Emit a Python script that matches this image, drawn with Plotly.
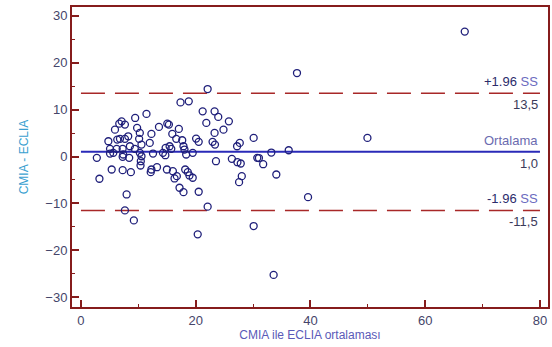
import plotly.graph_objects as go

# Bland-Altman data: mean of CMIA and ECLIA (x) vs difference CMIA - ECLIA (y)
mean_vals = [17.35, 18.79, 21.21, 23.29, 23.93, 25.78, 11.42, 9.45, 7.09, 6.68,
             7.66, 5.93, 9.79, 13.6, 15.05, 15.33, 17.06, 21.85, 24.84, 23.29,
             12.28, 10.26, 8.24, 7.66, 6.33, 6.8, 4.78, 15.92, 16.61, 17.65,
             17.87, 20.07, 20.52, 22.94, 23.36, 27.68, 27.21, 30.1, 11.99, 10.14,
             10.55, 8.53, 7.27, 5.07, 6.23, 9.39, 14.76, 15.45, 14.29, 15.74,
             18.04, 19.48, 18.34, 12.56, 10.26, 10.55, 8.41, 7.37, 5.64, 5.07,
             2.77, 7.27, 14.71, 23.53, 26.3, 27.27, 27.85, 30.73, 10.43, 10.38,
             5.36, 7.27, 8.7, 12.28, 12.16, 13.25, 14.98, 16.02, 16.31, 16.71,
             18.17, 18.62, 18.91, 19.48, 3.22, 28.03, 27.56, 17.18, 17.87, 20.52,
             7.96, 7.66, 22.08, 9.22, 20.35, 30.1, 22.08, 33.18, 36.21, 31.02,
             31.76, 34.05, 39.58, 33.58, 37.65, 66.89, 49.93]
diff_vals = [11.55, 11.77, 9.64, 9.64, 8.45, 7.51, 9.09, 8.23, 7.51, 7.02,
             6.81, 5.74, 6.11, 6.32, 7.02, 6.81, 5.89, 7.17, 5.74, 5.04,
             4.83, 5.04, 4.32, 3.77, 3.62, 3.77, 3.26, 4.83, 3.77, 3.47,
             2.19, 3.83, 3.13, 3.13, 2.55, 2.91, 2.19, 3.98, 2.91, 3.77,
             2.55, 2.19, 1.64, 1.64, 1.64, 1.64, 1.85, 2.19, 0.79, 1.64,
             1.49, 0.79, 0.43, 0.64, 0.79, 0.06, -0.28, 0.43, 0.79, 0.64,
             -0.28, -0.06, 0.28, -1.0, -0.49, -1.21, -1.49, -0.28, -1.0, -1.91,
             -2.77, -2.91, -3.34, -2.77, -3.34, -2.28, -2.77, -3.13, -4.68, -4.19,
             -2.77, -3.34, -4.04, -4.53, -4.74, -4.19, -5.47, -6.66, -7.6, -7.51,
             -8.09, -11.49, -10.7, -13.62, -16.6, -14.83, 14.4, 0.85, 1.34, -0.32,
             -1.64, -3.83, -8.66, -25.26, 17.81, 26.66, 3.98]

mean_diff = 1.0
upper_loa = 13.5
lower_loa = -11.5
line_x = [0, 80]

x_ticks = [0, 20, 40, 60, 80]
y_ticks = [-30, -20, -10, 0, 10, 20, 30]

frame = "#861c1c"
red_dash = "#a82828"
navy = "#1f1f7a"

fig = go.Figure()

fig.add_trace(go.Scatter(x=line_x, y=[upper_loa, upper_loa], mode="lines",
                         line=dict(color=red_dash, width=1.6, dash="24px,10px"),
                         hoverinfo="skip"))
fig.add_trace(go.Scatter(x=line_x, y=[lower_loa, lower_loa], mode="lines",
                         line=dict(color=red_dash, width=1.6, dash="24px,10px"),
                         hoverinfo="skip"))
fig.add_trace(go.Scatter(x=line_x, y=[mean_diff, mean_diff], mode="lines",
                         line=dict(color="#2a2ab8", width=2), hoverinfo="skip"))

fig.add_trace(go.Scatter(x=mean_vals, y=diff_vals, mode="markers",
                         marker=dict(symbol="circle-open", size=7,
                                     color=navy, line=dict(color=navy, width=1.3))))

lab_font = dict(family="Liberation Sans, Arial, sans-serif", size=13)
num_color = "#3a3a5a"


def fmt(v):
    return f"{v:.1f}".replace(".", ",")


anns = [
    (upper_loa, "<span style='color:#2b2b6b'>+1.96</span> <span style='color:#6b6bc0'>SS</span>", "bottom"),
    (upper_loa, f"<span style='color:{num_color}'>{fmt(upper_loa)}</span>", "top"),
    (mean_diff, "<span style='color:#6b6bb0'>Ortalama</span>", "bottom"),
    (mean_diff, f"<span style='color:{num_color}'>{fmt(mean_diff)}</span>", "top"),
    (lower_loa, "<span style='color:#2b2b6b'>-1.96</span> <span style='color:#6b6bc0'>SS</span>", "bottom"),
    (lower_loa, f"<span style='color:{num_color}'>{fmt(lower_loa)}</span>", "top"),
]
for yv, txt, anchor in anns:
    fig.add_annotation(x=80, y=yv, xref="x", yref="y", text=txt, showarrow=False,
                       xanchor="right", yanchor=anchor,
                       yshift=2 if anchor == "bottom" else -2, font=lab_font)

fig.update_layout(
    width=552, height=347,
    margin=dict(l=72, r=2, t=7, b=40),
    paper_bgcolor="white", plot_bgcolor="white",
    showlegend=False,
    font=dict(family="Liberation Sans, Arial, sans-serif"),
)
fig.update_xaxes(
    range=[-1.56, 81.4], tickvals=x_ticks, ticks="inside", ticklen=7, tickwidth=2,
    tickcolor=frame, showline=True, linecolor=frame, linewidth=2, mirror=True,
    showgrid=False, zeroline=False,
    minor=dict(tickvals=[10, 30, 50, 70], ticks="inside", ticklen=3, tickwidth=1, tickcolor=frame),
    tickfont=dict(size=13, color="#45456a"),
    title=dict(text="CMIA ile ECLIA ortalaması", font=dict(size=12, color="#5a5ab8"), standoff=4),
)
fig.update_yaxes(
    range=[-32.1, 31.9], tickvals=y_ticks, ticks="inside", ticklen=7, tickwidth=2,
    tickcolor=frame, showline=True, linecolor=frame, linewidth=2, mirror=True,
    showgrid=False, zeroline=False,
    minor=dict(tickvals=[-25, -15, -5, 5, 15, 25], ticks="inside", ticklen=3, tickwidth=1, tickcolor=frame),
    tickfont=dict(size=13, color="#45456a"),
    title=dict(text="CMIA - ECLIA", font=dict(size=12, color="#3a9fd0"), standoff=14),
)

fig.write_html("out.html", config={"displayModeBar": False},
               post_script="document.body.style.margin='0';document.body.style.padding='0';")
